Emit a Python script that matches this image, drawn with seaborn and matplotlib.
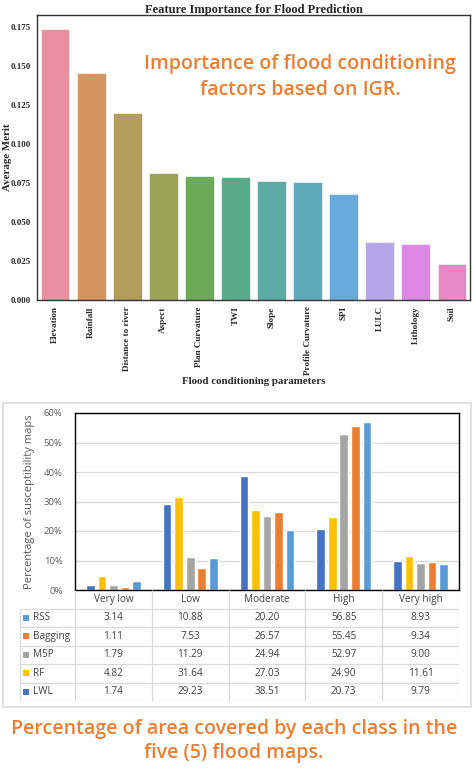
import numpy as np
import pandas as pd
import matplotlib
matplotlib.use("Agg")
import matplotlib.pyplot as plt
from matplotlib.patches import Rectangle
import seaborn as sns

# ---- data: feature importance (IGR) ----
features = ["Elevation", "Rainfall", "Distance to river", "Aspect", "Plan Curvature",
            "TWI", "Slope", "Profile Curvature", "SPI", "LULC", "Lithology", "Soil"]
merit = [0.174, 0.1455, 0.120, 0.0815, 0.0795, 0.079, 0.0765, 0.0755,
         0.068, 0.0372, 0.0358, 0.023]

# ---- data: percentage of area per susceptibility class ----
classes = ["Very low", "Low", "Moderate", "High", "Very high"]
models = ["LWL", "RF", "M5P", "Bagging", "RSS"]
lwl = [1.74, 29.23, 38.51, 20.73, 9.79]
rf = [4.82, 31.64, 27.03, 24.90, 11.61]
m5p = [1.79, 11.29, 24.94, 52.97, 9.00]
bagging = [1.11, 7.53, 26.57, 55.45, 9.34]
rss = [3.14, 10.88, 20.20, 56.85, 8.93]
model_colors = ["#4472C4", "#FFC000", "#A5A5A5", "#ED7D31", "#5B9BD5"]
table_order = ["RSS", "Bagging", "M5P", "RF", "LWL"]

values = {"LWL": lwl, "RF": rf, "M5P": m5p, "Bagging": bagging, "RSS": rss}
area = pd.DataFrame([(c, m, values[m][i]) for m in models for i, c in enumerate(classes)],
                    columns=["cls", "model", "pct"])

sns.set_style("white")
plt.rcParams["font.family"] = ["Liberation Serif", "DejaVu Serif"]

W, H = 474, 769
fig = plt.figure(figsize=(W / 100, H / 100), dpi=100)


def px_axes(l, t, r, b):
    return fig.add_axes([l / W, 1 - b / H, (r - l) / W, (b - t) / H])


orange = "#ED7D31"
excel_font = ["Open Sans", "DejaVu Sans"]

# ---- top chart ----
ax1 = px_axes(37, 15, 470, 300)
sns.barplot(x=features, y=merit, hue=features, palette="husl", legend=False, ax=ax1,
            alpha=0.88, edgecolor="#f4f4f4", linewidth=0.6)
ax1.set_title("Feature Importance for Flood Prediction", fontsize=9, fontweight="bold", pad=1.5)
ax1.set_xlabel("Flood conditioning parameters", fontsize=7.8, fontweight="bold", labelpad=1)
ax1.set_ylabel("Average Merit", fontsize=7.8, fontweight="bold")
ax1.yaxis.set_label_coords(-0.057, 0.5)
ticks = np.arange(0, 0.176, 0.025)
ax1.set_yticks(ticks)
ax1.set_yticklabels([f"{v:.3f}" for v in ticks], fontsize=6.4, fontweight="bold")
ax1.tick_params(axis="x", labelrotation=90, labelsize=6.6, pad=1)
for lab in ax1.get_xticklabels():
    lab.set_fontweight("bold")
ax1.tick_params(axis="y", pad=1)
for s in ax1.spines.values():
    s.set_color("#333333")
    s.set_linewidth(1)

fig.text(300 / W, 1 - 77 / H, "Importance of flood conditioning\nfactors based on IGR.",
         ha="center", va="center", color=orange, fontsize=14, family=excel_font,
         fontweight="semibold", linespacing=1.35)

# ---- bottom chart (Excel style) ----
fig.add_artist(Rectangle((3 / W, 1 - 707 / H), 468 / W, 304 / H, transform=fig.transFigure,
                         fill=False, edgecolor="#D9D9D9", lw=1.2))

ax2 = px_axes(75, 413, 459, 590)
sns.barplot(data=area, x="cls", y="pct", hue="model", hue_order=models, order=classes,
            palette=model_colors, saturation=1, width=0.75, gap=0.25, legend=False, ax=ax2)
ax2.set_xlim(-0.5, 4.5)
ax2.set_ylim(0, 60)
ax2.set_yticks(range(0, 61, 10))
ax2.set_yticklabels([f"{v}%" for v in range(0, 61, 10)], fontsize=6.8, color="#595959",
                    family=excel_font)
ax2.tick_params(axis="y", length=0, pad=9)
ax2.set_xticks([])
ax2.set_xlabel("")
ax2.set_ylabel("Percentage of susceptibility maps", fontsize=8, color="#595959",
               family=excel_font)
ax2.yaxis.set_label_coords(-40 / 384, 0.5)
ax2.yaxis.grid(True, color="#D9D9D9", lw=0.9)
ax2.set_axisbelow(True)
for s in ax2.spines.values():
    s.set_color("black")
    s.set_linewidth(1)

# data table under the chart
group_px = (459 - 75) / len(classes)
left = -0.5 - (75 - 20) / group_px
tab = px_axes(20, 590, 459, 701)
tab.set_xlim(left, 4.5)
tab.set_ylim(len(table_order) + 1, 0)
tab.axis("off")
grid_c = "#D9D9D9"
tab.vlines(np.arange(-0.5, 4.6, 1), 0, len(table_order) + 1, color=grid_c, lw=0.9)
tab.vlines([left], 1, len(table_order) + 1, color=grid_c, lw=0.9)
tab.hlines(np.arange(1, len(table_order) + 2), left, 4.5, color=grid_c, lw=0.9)
for i, c in enumerate(classes):
    tab.text(i, 0.5, c, ha="center", va="center", fontsize=7.2, color="#404040", family=excel_font)
for r, m in enumerate(table_order):
    y = r + 1.5
    tab.scatter([left + 0.08], [y], marker="s", s=14, color=model_colors[models.index(m)],
                linewidths=0)
    tab.text(left + 0.17, y, m, ha="left", va="center", fontsize=7.2, color="#404040",
             family=excel_font)
    for i, v in enumerate(values[m]):
        tab.text(i, y, f"{v:.2f}", ha="center", va="center", fontsize=7.2, color="#404040",
                 family=excel_font)

fig.text(234 / W, 1 - 741 / H, "Percentage of area covered by each class in the\nfive (5) flood maps.",
         ha="center", va="center", color=orange, fontsize=14, family=excel_font,
         fontweight="semibold", linespacing=1.25)

fig.savefig("out.png", dpi=100)
